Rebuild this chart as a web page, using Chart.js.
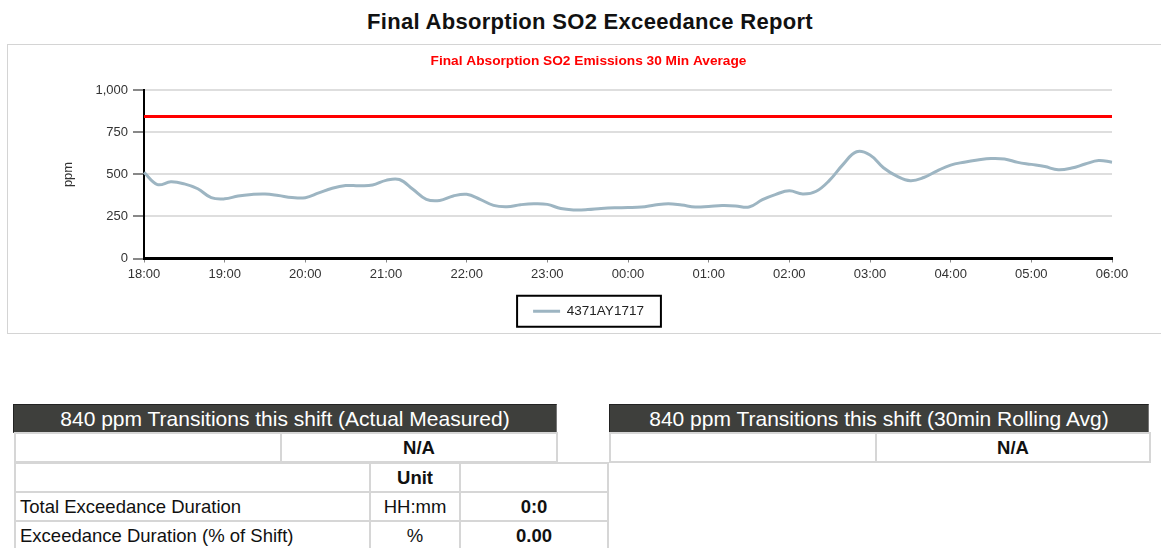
<!DOCTYPE html>
<html>
<head>
<meta charset="utf-8">
<script src="https://cdn.jsdelivr.net/npm/chart.js@4"></script>
<style>
  body { margin: 0; width: 1161px; height: 548px; overflow: hidden; position: relative; background: #fff;
         font-family: Arial, "Liberation Sans", sans-serif; color: #111; }
  #title { position: absolute; left: 7px; width: 1166px; top: 8px; line-height: 28px; text-align: center;
           font-size: 22px; letter-spacing: 0.3px; font-weight: bold; }
  #box { position: absolute; left: 7px; top: 44px; width: 1170px; height: 290px; box-sizing: border-box;
         border: 1px solid #d4d4d4; }
  #wrap { position: absolute; left: 8px; top: 45px; width: 1153px; height: 288px; }
  .hdr { position: absolute; height: 29px; box-sizing: border-box; background: #3e3f3c; color: #fff;
         font-size: 21px; line-height: 27px; text-align: center; border: 1px solid #222;
         border-right-color: #777; border-bottom-color: #777; }
  table { position: absolute; border-collapse: collapse; table-layout: fixed; font-size: 18.5px; }
  td { border: 2px solid #d6d6d6; height: 27px; padding: 0 4px; white-space: nowrap; overflow: hidden; }
  td.c { text-align: center; }
  td.b { font-weight: bold; text-align: center; }
</style>
</head>
<body>
<div id="title">Final Absorption SO2 Exceedance Report</div>
<div id="box"></div>
<div id="wrap"><canvas id="myChart"></canvas></div>

<div class="hdr" style="left:13px; top:404px; width:544px;">840 ppm Transitions this shift (Actual Measured)</div>
<table style="left:14px; top:432px; width:542px;">
  <colgroup><col style="width:266px"><col style="width:276px"></colgroup>
  <tr><td></td><td class="b">N/A</td></tr>
</table>
<table style="left:14px; top:462px; width:593px;">
  <colgroup><col style="width:355px"><col style="width:90px"><col style="width:148px"></colgroup>
  <tr><td></td><td class="b">Unit</td><td></td></tr>
  <tr><td>Total Exceedance Duration</td><td class="c">HH:mm</td><td class="b">0:0</td></tr>
  <tr><td>Exceedance Duration (% of Shift)</td><td class="c">%</td><td class="b">0.00</td></tr>
</table>

<div class="hdr" style="left:609px; top:404px; width:540px;">840 ppm Transitions this shift (30min Rolling Avg)</div>
<table style="left:609px; top:432px; width:540px;">
  <colgroup><col style="width:266px"><col style="width:274px"></colgroup>
  <tr><td></td><td class="b">N/A</td></tr>
</table>

<script>
// time axis: 18:00 -> 06:00, one sample every 10 min
const timeLabels = [];
for (let m = 0; m <= 720; m += 10) {
    const h = (18 + Math.floor(m / 60)) % 24;
    timeLabels.push(String(h).padStart(2, "0") + ":" + String(m % 60).padStart(2, "0"));
}

// 4371AY1717, ppm
const so2Values = [
    512, 440, 456, 444, 415, 362,   // 18:00
    355, 372, 381, 384, 375, 363,   // 19:00
    362, 390, 418, 434, 433, 437,   // 20:00
    465, 470, 412, 352, 345, 372,   // 21:00
    382, 352, 316, 308, 320, 326,   // 22:00
    322, 297, 289, 291, 298, 302,   // 23:00
    303, 306, 318, 326, 318, 307,   // 00:00
    310, 315, 313, 306, 350, 382,   // 01:00
    403, 384, 400, 466, 560, 635,   // 02:00
    616, 540, 490, 463, 482, 522,   // 03:00
    556, 573, 586, 595, 592, 572,   // 04:00
    560, 547, 528, 538, 562, 583,   // 05:00
    573                             // 06:00
];

const seriesName = "4371AY1717";
const limitValue = 845;
const yTicks = [0, 250, 500, 750, 1000];

Chart.defaults.font.family = 'Arial, "Liberation Sans", sans-serif';

// title and legend sit a little right of the centre in the original
const shiftBoxes = {
    id: "shiftBoxes",
    afterLayout(chart) {
        for (const b of [chart.titleBlock, chart.legend]) {
            b.left += 8.5;
            b.right += 8.5;
        }
    }
};

// black frame round the legend
const legendBorder = {
    id: "legendBorder",
    afterDraw(chart) {
        const hb = chart.legend.legendHitBoxes[0];
        if (!hb) return;
        const ctx = chart.ctx;
        ctx.save();
        ctx.strokeStyle = "#000";
        ctx.lineWidth = 2;
        ctx.strokeRect(hb.left - 16, hb.top + hb.height / 2 - 15.5, hb.width + 33, 31);
        ctx.restore();
    }
};

const config = {
    type: "line",
    data: {
        labels: timeLabels,
        datasets: [
            {
                label: seriesName,
                data: so2Values,
                borderColor: "#9db5c2",
                backgroundColor: "#9db5c2",
                borderWidth: 3,
                pointRadius: 0,
                tension: 0.4,
            },
            {
                label: "Limit",
                data: timeLabels.map(() => limitValue),
                borderColor: "#ff0000",
                borderWidth: 3,
                pointRadius: 0,
            },
        ],
    },
    options: {
        responsive: true,
        maintainAspectRatio: false,
        animation: false,
        layout: { padding: { left: 40, right: 49, top: 0, bottom: 5 } },
        plugins: {
            title: {
                display: true,
                text: "Final Absorption SO2 Emissions 30 Min Average",
                color: "#ff0000",
                font: { size: 13.7, weight: "bold" },
                padding: { top: 8, bottom: 21 },
            },
            legend: {
                position: "bottom",
                labels: {
                    usePointStyle: true,
                    pointStyle: "line",
                    pointStyleWidth: 27,
                    color: "#222",
                    font: { size: 13.5 },
                    padding: 10,
                    filter: (item) => item.datasetIndex === 0,
                },
            },
            tooltip: { enabled: false },
        },
        scales: {
            x: {
                ticks: {
                    autoSkip: false,
                    maxRotation: 0,
                    color: "#333",
                    font: { size: 13 },
                    padding: 4,
                    callback: (v, i) => (i % 6 === 0 ? timeLabels[i] : ""),
                },
                grid: {
                    drawOnChartArea: false,
                    tickLength: 4,
                    tickColor: (c) => (c.index % 6 === 0 ? "#888" : "rgba(0,0,0,0)"),
                },
                border: { color: "#000", width: 3 },
                afterFit(scale) { scale.height = 36; },
            },
            y: {
                min: yTicks[0],
                max: yTicks[yTicks.length - 1],
                ticks: { stepSize: 250, color: "#333", font: { size: 13 }, padding: 5 },
                grid: { color: "#dedede", lineWidth: 2, tickLength: 11, tickColor: "#888" },
                border: { color: "#000", width: 2 },
                title: {
                    display: true,
                    text: "ppm",
                    color: "#333",
                    font: { size: 13 },
                    padding: { top: 13, bottom: 0 },
                },
                afterFit(scale) { scale.width = 96; },
            },
        },
    },
    plugins: [shiftBoxes, legendBorder],
};

const myChart = new Chart(document.getElementById("myChart"), config);
</script>
</body>
</html>
